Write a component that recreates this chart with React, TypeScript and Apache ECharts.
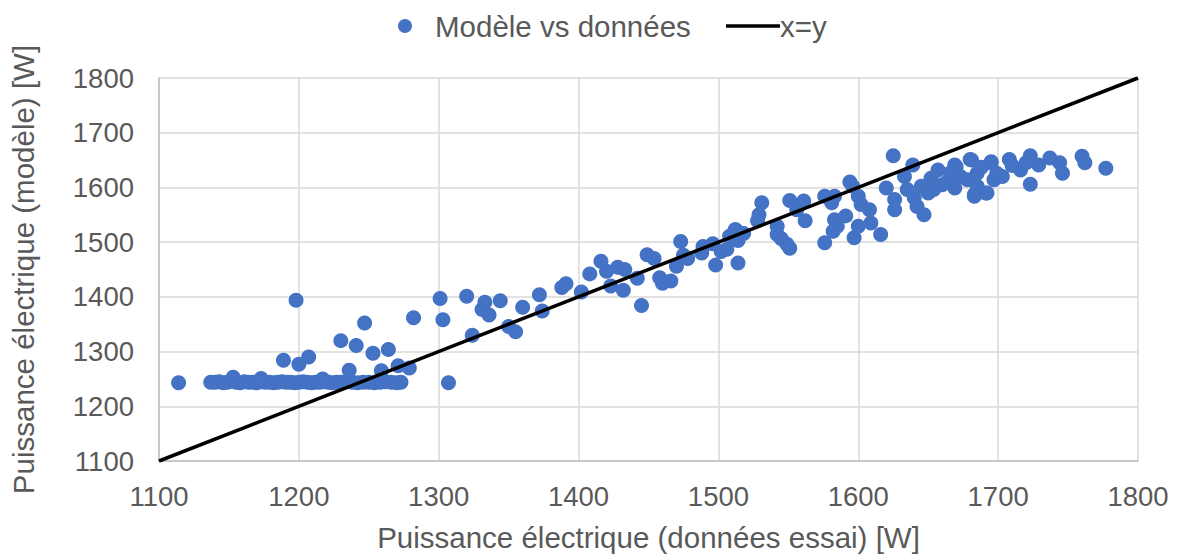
import React, { useEffect, useRef } from "react";
import * as echarts from "echarts";

const seriesModelName = "Modèle vs données";
const seriesLineName = "x=y";
const xAxisTitle = "Puissance électrique (données essai) [W]";
const yAxisTitle = "Puissance électrique (modèle) [W]";

// Measured power (test data) [W]
const essai: number[] = [
  1114, 1137, 1140, 1143, 1146, 1149, 1152, 1155, 1158, 1161, 1164, 1167, 1170, 1173, 1176, 1179,
  1182, 1185, 1188, 1191, 1194, 1197, 1200, 1203, 1206, 1209, 1212, 1215, 1218, 1221, 1224, 1227,
  1230, 1234, 1238, 1242, 1246, 1250, 1254, 1258, 1262, 1266, 1270, 1273,
  1153, 1173, 1217, 1236, 1259, 1271, 1279, 1200, 1189, 1207, 1230, 1241, 1253, 1264, 1247, 1198,
  1282, 1301, 1303, 1307, 1320, 1324, 1333, 1331, 1336, 1344, 1350, 1355, 1360, 1372, 1374, 1388,
  1391, 1402, 1408, 1416, 1420, 1423, 1428, 1433, 1432, 1442, 1445, 1449, 1454, 1458, 1460, 1466,
  1470, 1473, 1475, 1478, 1488, 1489, 1496, 1498, 1502, 1506, 1508, 1513, 1514, 1514, 1512, 1529,
  1528, 1531, 1542, 1542, 1545, 1551, 1549, 1551, 1561, 1556, 1562, 1576, 1583, 1581, 1594, 1596,
  1600, 1602, 1608, 1583, 1591, 1585, 1582, 1576, 1597, 1600, 1609, 1616, 1620, 1625, 1626, 1626,
  1633, 1635, 1639, 1640, 1645, 1647, 1642, 1654, 1657, 1652, 1669, 1669, 1664, 1680, 1678, 1683,
  1685, 1692, 1695, 1697, 1681, 1670, 1695, 1708, 1716, 1723, 1723, 1729, 1737, 1744, 1746, 1760,
  1762, 1777, 1703, 1691, 1683, 1685, 1699, 1666, 1660, 1650, 1673, 1688, 1710, 1720, 1518,
];

// Model power [W]
const modele: number[] = [
  1243, 1244, 1244, 1245, 1243, 1244, 1246, 1244, 1243, 1245, 1244, 1244, 1243, 1245, 1244, 1244,
  1243, 1244, 1245, 1244, 1244, 1243, 1244, 1245, 1244, 1243, 1244, 1244, 1245, 1244, 1243, 1244,
  1244, 1245, 1244, 1243, 1244, 1244, 1243, 1244, 1245, 1244, 1243, 1244,
  1253, 1251, 1250, 1266, 1265, 1274, 1270, 1277, 1284, 1290, 1320, 1311, 1297, 1304, 1352, 1394,
  1362, 1397, 1358, 1243, 1401, 1330, 1390, 1377, 1367, 1393, 1346, 1336, 1381, 1404, 1374, 1417,
  1424, 1409, 1442, 1465, 1447, 1420, 1454, 1450, 1412, 1434, 1384, 1477, 1470, 1435, 1425, 1429,
  1456, 1501, 1476, 1470, 1480, 1492, 1497, 1458, 1483, 1487, 1511, 1521, 1503, 1462, 1523, 1550,
  1539, 1572, 1529, 1514, 1506, 1489, 1496, 1576, 1575, 1559, 1539, 1584, 1584, 1572, 1610, 1602,
  1584, 1569, 1559, 1541, 1548, 1529, 1520, 1499, 1508, 1529, 1535, 1514, 1599, 1658, 1578, 1559,
  1620, 1596, 1641, 1581, 1602, 1550, 1565, 1596, 1632, 1617, 1641, 1599, 1611, 1651, 1614, 1587,
  1626, 1590, 1645, 1614, 1650, 1638, 1647, 1651, 1632, 1658, 1606, 1641, 1654, 1645, 1626, 1657,
  1645, 1635, 1620, 1590, 1584, 1602, 1626, 1627, 1605, 1590, 1620, 1637, 1640, 1645, 1516,
];

const lineX: number[] = [1100, 1800];
const lineY: number[] = [1100, 1800];

const axisMin = 1100;
const axisMax = 1800;
const axisInterval = 100;

const FONT = "'Liberation Sans', Arial, sans-serif";
const TEXT = "#595959";

export default function App() {
  const ref = useRef<HTMLDivElement>(null);
  useEffect(() => {
    if (!ref.current) return;
    const chart = echarts.init(ref.current, undefined, { renderer: "svg" });
    const scatterData = essai.map((x, i) => [x, modele[i]]);
    const lineData = lineX.map((x, i) => [x, lineY[i]]);
    const axisCommon = {
      type: "value" as const,
      min: axisMin,
      max: axisMax,
      interval: axisInterval,
      nameLocation: "middle" as const,
      nameTextStyle: { fontFamily: FONT, fontSize: 29.5, color: TEXT },
      axisLine: { show: true, lineStyle: { color: "#bfbfbf", width: 1.5 } },
      axisTick: { show: false },
      splitLine: { show: true, lineStyle: { color: "#d9d9d9", width: 1.5 } },
      axisLabel: {
        fontFamily: FONT,
        fontSize: 27.5,
        color: TEXT,
        formatter: (v: number) => String(v),
      },
    };
    chart.setOption({
      animation: false,
      backgroundColor: "#ffffff",
      grid: { left: 155, right: 40, top: 78, bottom: 95, containLabel: false },
      legend: [
        {
          data: [{ name: seriesModelName, icon: "circle" }],
          left: 393,
          top: 6,
          itemWidth: 14,
          itemHeight: 14,
          textStyle: { fontFamily: FONT, fontSize: 29.5, color: TEXT, padding: [0, 0, 0, 18] },
        },
        {
          data: [{ name: seriesLineName, icon: "rect" }],
          left: 721,
          top: 6,
          itemWidth: 54,
          itemHeight: 3.5,
          textStyle: { fontFamily: FONT, fontSize: 29.5, color: TEXT, padding: [0, 0, 0, -5] },
        },
      ],
      xAxis: {
        ...axisCommon,
        name: xAxisTitle,
        nameGap: 61,
        axisLabel: { ...axisCommon.axisLabel, margin: 21 },
      },
      yAxis: {
        ...axisCommon,
        name: yAxisTitle,
        nameGap: 121,
        axisLabel: { ...axisCommon.axisLabel, margin: 25 },
      },
      series: [
        {
          name: seriesModelName,
          type: "scatter",
          data: scatterData,
          symbol: "circle",
          symbolSize: 15,
          itemStyle: { color: "#4472c4", opacity: 1 },
          z: 2,
        },
        {
          name: seriesLineName,
          type: "line",
          data: lineData,
          symbol: "none",
          lineStyle: { color: "#000000", width: 3.5 },
          itemStyle: { color: "#000000" },
          z: 3,
        },
      ],
    });
    return () => chart.dispose();
  }, []);
  return <div ref={ref} style={{ width: 1178, height: 557, position: "absolute", left: 0, top: 0 }} />;
}
